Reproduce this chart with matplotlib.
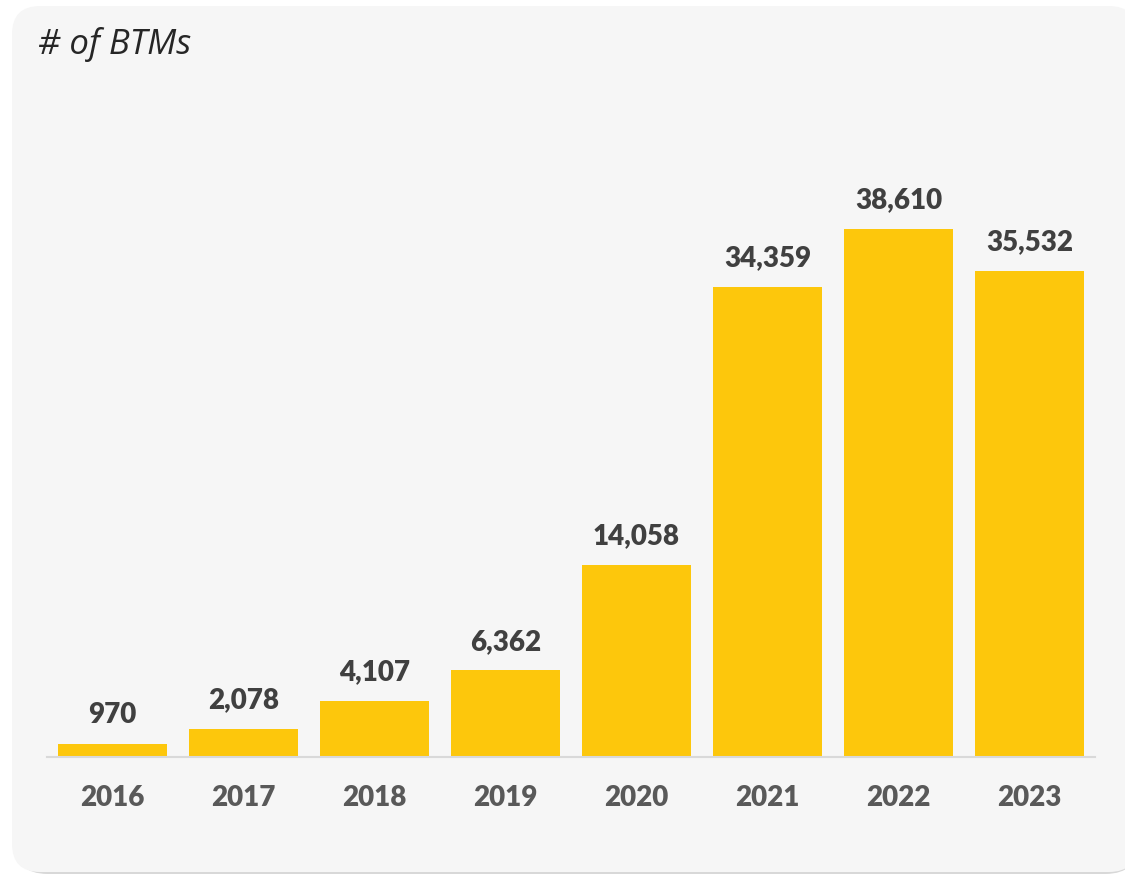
import matplotlib.pyplot as plt
from matplotlib.patches import FancyBboxPatch

years = ["2016", "2017", "2018", "2019", "2020", "2021", "2022", "2023"]
btms = [970, 2078, 4107, 6362, 14058, 34359, 38610, 35532]

bar_color = "#FDC70C"
label_color = "#404040"
tick_color = "#595959"

fig = plt.figure(figsize=(11.25, 8.76), dpi=100)
fig.patch.set_facecolor("white")

# rounded card behind the chart
shadow = FancyBboxPatch((14 / 1125, 2 / 876), 1.0, 866 / 876,
                        boxstyle="round,pad=0,rounding_size=0.03",
                        transform=fig.transFigure, facecolor="#d8d8d8",
                        edgecolor="none", zorder=-2, mutation_aspect=1125 / 876)
card = FancyBboxPatch((12 / 1125, 4 / 876), 1.0, 866 / 876,
                      boxstyle="round,pad=0,rounding_size=0.025",
                      transform=fig.transFigure, facecolor="#f6f6f6",
                      edgecolor="none", zorder=-1, mutation_aspect=1125 / 876)
fig.patches.extend([shadow, card])

ax = fig.add_axes([47 / 1125, 119 / 876, 1048 / 1125, 657 / 876])
ax.set_facecolor("none")
ax.set_zorder(1)

x = range(len(years))
bars = ax.bar(x, btms, width=0.83, color=bar_color, zorder=2)

for xi, v in zip(x, btms):
    ax.annotate(f"{v:,}", (xi, v), xytext=(0, 11), textcoords="offset points",
                ha="center", va="bottom", fontsize=20, fontweight="heavy",
                color=label_color, family="Lato")

ax.set_xlim(-0.5, 7.5)
ax.set_ylim(0, 48000)
ax.set_xticks(list(x))
ax.set_xticklabels(years, fontsize=20, fontweight="heavy", color=tick_color,
                   family="Lato")
ax.tick_params(axis="x", length=0, pad=20)
ax.set_yticks([])
for side in ["top", "right", "left"]:
    ax.spines[side].set_visible(False)
ax.spines["bottom"].set_color("#d9d9d9")
ax.spines["bottom"].set_linewidth(1.5)

fig.text(38 / 1125, 1 - 45 / 876, "# of BTMs", fontsize=25, style="italic",
         color="#262626", va="center", ha="left", family="Open Sans")

fig.savefig("out.png", dpi=100, facecolor=fig.get_facecolor())
